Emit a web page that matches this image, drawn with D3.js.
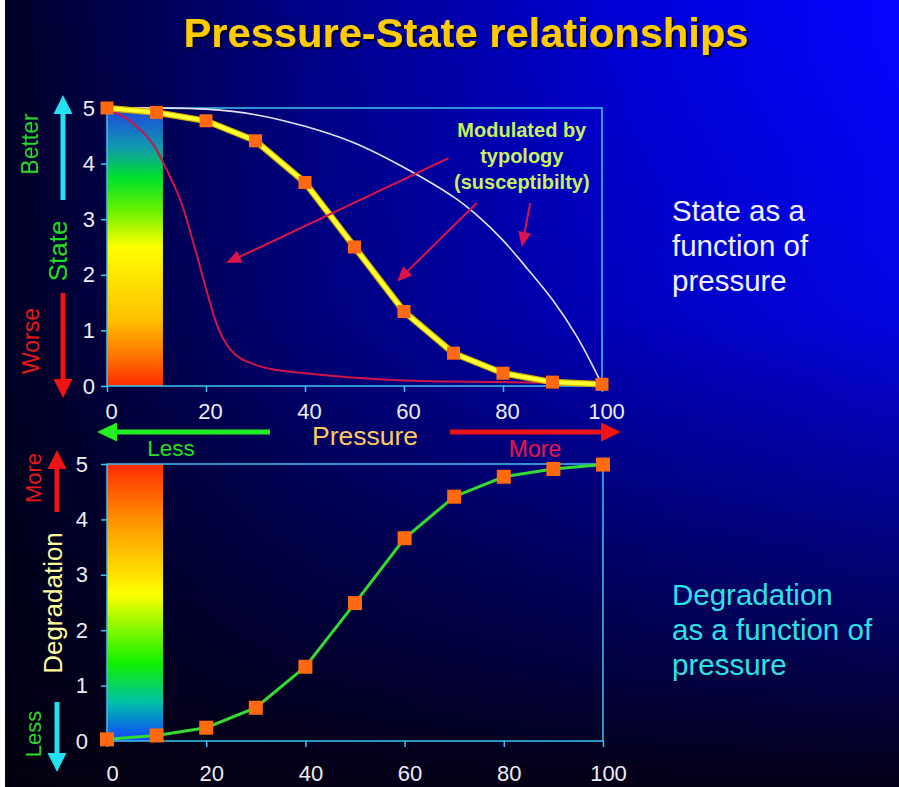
<!DOCTYPE html>
<html>
<head>
<meta charset="utf-8">
<script src="https://cdn.jsdelivr.net/npm/d3@7"></script>
<style>
  body { margin: 0; background: #fff; }
  svg { display: block; }
  text { font-family: "Liberation Sans", Arial, sans-serif; }
</style>
</head>
<body>
<div id="chart"></div>
<script>
// ---- data ----
var pressure = [0, 10, 20, 30, 40, 50, 60, 70, 80, 90, 100];
var stateValues = [5.0, 4.92, 4.77, 4.41, 3.66, 2.5, 1.34, 0.59, 0.23, 0.07, 0.03];
var degradationValues = [0.03, 0.1, 0.24, 0.6, 1.34, 2.49, 3.66, 4.41, 4.77, 4.91, 4.99];

// susceptible typology (red curve)
var sensitiveX = [0, 5, 10, 12, 15, 18, 20, 22, 25, 30, 35, 40, 50, 60, 70, 80, 90, 100];
var sensitiveY = [5.0, 4.74, 4.25, 3.9, 3.3, 2.4, 1.75, 1.15, 0.65, 0.38, 0.28, 0.23, 0.15, 0.1, 0.08, 0.07, 0.06, 0.05];

// resistant typology (white curve)
var resistantX = [0, 10, 20, 30, 40, 50, 60, 70, 75, 80, 85, 90, 95, 100];
var resistantY = [5.0, 5.0, 4.98, 4.88, 4.67, 4.37, 3.93, 3.4, 3.05, 2.62, 2.1, 1.55, 0.88, 0.03];

var xTicks = [0, 20, 40, 60, 80, 100];
var yTicks = [0, 1, 2, 3, 4, 5];
var barEnd = 11.3; // coloured band width in pressure units

// ---- page ----
var W = 899, H = 787;
var svg = d3.select("#chart").append("svg")
  .attr("width", W)
  .attr("height", H);

var defs = svg.append("defs");

function linGrad(id, x1, y1, x2, y2, stops) {
  var g = defs.append("linearGradient").attr("id", id)
    .attr("x1", x1).attr("y1", y1).attr("x2", x2).attr("y2", y2);
  stops.forEach(function(s) {
    g.append("stop").attr("offset", s[0]).attr("stop-color", s[1])
      .attr("stop-opacity", s.length > 2 ? s[2] : 1);
  });
}

linGrad("bgH", "0", "0", "1", "0", [["0%", "#000026"], ["35%", "#00008a"], ["70%", "#0000d8"], ["100%", "#0505ff"]]);
linGrad("bgV", "0", "0", "0", "1", [["0%", "#000010", 0], ["40%", "#000010", 0.12], ["70%", "#000010", 0.55], ["100%", "#050010", 0.97]]);
linGrad("barTop", "0", "0", "0", "1", [["0%", "#2044e0"], ["14%", "#1098b0"], ["25%", "#00e030"], ["36%", "#60f000"], ["50%", "#ffff00"], ["76%", "#ffc000"], ["90%", "#ff7000"], ["100%", "#ff2a00"]]);
linGrad("barBot", "0", "0", "0", "1", [["0%", "#ff2a00"], ["20%", "#ff9000"], ["47%", "#ffff00"], ["72%", "#10f000"], ["86%", "#00c0a8"], ["100%", "#1040ff"]]);

var shadow = defs.append("filter").attr("id", "shadow")
  .attr("x", "-5%").attr("y", "-20%").attr("width", "110%").attr("height", "150%");
shadow.append("feDropShadow")
  .attr("dx", 2).attr("dy", 2).attr("stdDeviation", 0.6)
  .attr("flood-color", "#000").attr("flood-opacity", 0.8);

svg.append("rect").attr("width", W).attr("height", H).attr("fill", "url(#bgH)");
svg.append("rect").attr("width", W).attr("height", H).attr("fill", "url(#bgV)");
svg.append("rect").attr("width", 5).attr("height", H).attr("fill", "#fff");

// ---- helpers ----
function arrow(g, x1, y1, x2, y2, color, width, headLen, headW) {
  var dx = x2 - x1, dy = y2 - y1;
  var len = Math.sqrt(dx * dx + dy * dy);
  var ux = dx / len, uy = dy / len;
  var bx = x2 - ux * headLen, by = y2 - uy * headLen;
  var px = -uy, py = ux;
  g.append("line")
    .attr("x1", x1).attr("y1", y1).attr("x2", bx + ux).attr("y2", by + uy)
    .attr("stroke", color).attr("stroke-width", width);
  g.append("polygon")
    .attr("points", [[x2, y2], [bx + px * headW / 2, by + py * headW / 2], [bx - px * headW / 2, by - py * headW / 2]]
      .map(function(p) { return p.join(","); }).join(" "))
    .attr("fill", color);
}

function vText(x, y, str, color, size) {
  svg.append("text")
    .attr("transform", "translate(" + x + "," + y + ") rotate(-90)")
    .attr("text-anchor", "middle")
    .attr("dominant-baseline", "central")
    .attr("fill", color)
    .style("font-size", size + "px")
    .text(str);
}

function drawAxes(g, x, y, w, h, labelDx, xLabelY, yPad) {
  var frame = "#3ec4f2";
  var xAxis = g.append("g")
    .attr("transform", "translate(0," + h + ")")
    .call(d3.axisBottom(x).tickValues(xTicks).tickFormat(d3.format("d")).tickSize(6).tickPadding(xLabelY));
  var yAxis = g.append("g")
    .call(d3.axisLeft(y).tickValues(yTicks).tickFormat(d3.format("d")).tickSize(6).tickPadding(yPad));
  [xAxis, yAxis].forEach(function(a) {
    a.attr("font-size", null).attr("font-family", null);
    a.select(".domain").remove();
    a.selectAll("line").attr("stroke", frame).attr("stroke-width", 1.5);
    a.selectAll("text").attr("fill", "#ececf4").style("font-size", "22px");
  });
  xAxis.selectAll("text").attr("dx", labelDx);
  g.append("rect")
    .attr("width", w).attr("height", h)
    .attr("fill", "none").attr("stroke", frame).attr("stroke-width", 1.5);
}

// ---- title ----
svg.append("text")
  .attr("x", 466).attr("y", 47)
  .attr("text-anchor", "middle")
  .attr("fill", "#ffcc00")
  .attr("filter", "url(#shadow)")
  .attr("textLength", 565).attr("lengthAdjust", "spacingAndGlyphs")
  .style("font-size", "40px").style("font-weight", "bold")
  .text("Pressure-State relationships");

// ---- top chart: state ----
var top1 = { left: 107, top: 108, width: 495, height: 278 };
var x1 = d3.scaleLinear().domain([0, 100]).range([0, top1.width]);
var y1 = d3.scaleLinear().domain([0, 5]).range([top1.height, 0]);
var g1 = svg.append("g").attr("transform", "translate(" + top1.left + "," + top1.top + ")");

g1.append("rect")
  .attr("x", x1(0)).attr("y", y1(5))
  .attr("width", x1(barEnd) - x1(0)).attr("height", y1(0) - y1(5))
  .attr("fill", "url(#barTop)");

drawAxes(g1, x1, y1, top1.width, top1.height, 4, 11, 6);

var smooth = d3.line().curve(d3.curveMonotoneX)
  .x(function(d) { return x1(d[0]); })
  .y(function(d) { return y1(d[1]); });

g1.append("path")
  .attr("d", d3.line().curve(d3.curveCatmullRom)
    .x(function(d) { return x1(d[0]); })
    .y(function(d) { return y1(d[1]); })(d3.zip(resistantX, resistantY)))
  .attr("fill", "none").attr("stroke", "#e4e4f0").attr("stroke-width", 1.6);

g1.append("path")
  .attr("d", smooth(d3.zip(sensitiveX, sensitiveY)))
  .attr("fill", "none").attr("stroke", "#d01448").attr("stroke-width", 2);

var straight1 = d3.line()
  .x(function(d) { return x1(d[0]); })
  .y(function(d) { return y1(d[1]); });
var statePts = d3.zip(pressure, stateValues);
g1.append("path").attr("d", straight1(statePts))
  .attr("fill", "none").attr("stroke", "#d8b000").attr("stroke-width", 6.5);
g1.append("path").attr("d", straight1(statePts))
  .attr("fill", "none").attr("stroke", "#ffff30").attr("stroke-width", 4);

g1.selectAll("rect.mk").data(statePts).enter().append("rect")
  .attr("class", "mk")
  .attr("x", function(d) { return x1(d[0]) - 6.5; })
  .attr("y", function(d) { return y1(d[1]) - 6.5; })
  .attr("width", 13).attr("height", 13)
  .attr("fill", "#ff6a10");

// annotation
var noteLines = ["Modulated by", "typology", "(susceptibilty)"];
g1.selectAll("text.note").data(noteLines).enter().append("text")
  .attr("class", "note")
  .attr("x", x1(83.8))
  .attr("y", function(d, i) { return 29 + i * 26; })
  .attr("text-anchor", "middle")
  .attr("fill", "#c8f060")
  .style("font-size", "20px").style("font-weight", "bold")
  .text(function(d) { return d; });

var noteArrows = [
  [[69, 4.1], [24.1, 2.21]],
  [[74.7, 3.29], [58.6, 1.88]],
  [[85.5, 3.29], [83.8, 2.5]]
];
noteArrows.forEach(function(a) {
  arrow(g1, x1(a[0][0]), y1(a[0][1]), x1(a[1][0]), y1(a[1][1]), "#dd1448", 2, 15, 13);
});

// left side of top chart
arrow(svg, 63, 200, 63, 95, "#22e2f2", 5, 19, 19);
arrow(svg, 63, 293, 63, 398, "#ee1414", 5, 19, 19);
vText(30, 144, "Better", "#2ed42e", 23);
vText(58, 251, "State", "#22dd22", 26);
vText(31, 341, "Worse", "#e81818", 23);

// pressure strip
arrow(svg, 270, 432, 97, 432, "#22ee22", 5, 20, 19);
arrow(svg, 450, 432, 621, 432, "#ee1414", 5, 20, 19);
svg.append("text").attr("x", 365).attr("y", 445).attr("text-anchor", "middle")
  .attr("fill", "#ffc860").style("font-size", "26.5px").text("Pressure");
svg.append("text").attr("x", 171).attr("y", 456).attr("text-anchor", "middle")
  .attr("fill", "#22e022").style("font-size", "22.5px").text("Less");
svg.append("text").attr("x", 535).attr("y", 457).attr("text-anchor", "middle")
  .attr("fill", "#ee1448").style("font-size", "23px").text("More");

// ---- bottom chart: degradation ----
var bot = { left: 107, top: 464, width: 496, height: 277 };
var x2 = d3.scaleLinear().domain([0, 100]).range([0, bot.width]);
var y2 = d3.scaleLinear().domain([0, 5]).range([bot.height, 0]);
var g2 = svg.append("g").attr("transform", "translate(" + bot.left + "," + bot.top + ")");

g2.append("rect")
  .attr("x", x2(0)).attr("y", y2(5))
  .attr("width", x2(barEnd) - x2(0)).attr("height", y2(0) - y2(5))
  .attr("fill", "url(#barBot)");

drawAxes(g2, x2, y2, bot.width, bot.height, 5, 18, 13);

var straight2 = d3.line()
  .x(function(d) { return x2(d[0]); })
  .y(function(d) { return y2(d[1]); });
var degPts = d3.zip(pressure, degradationValues);
g2.append("path").attr("d", straight2(degPts))
  .attr("fill", "none").attr("stroke", "#30dd30").attr("stroke-width", 3);

g2.selectAll("rect.mk").data(degPts).enter().append("rect")
  .attr("class", "mk")
  .attr("x", function(d) { return x2(d[0]) - 7; })
  .attr("y", function(d) { return y2(d[1]) - 7; })
  .attr("width", 14).attr("height", 14)
  .attr("fill", "#ff6a10");

// left side of bottom chart
arrow(svg, 57, 512, 57, 450, "#ee1414", 5, 19, 19);
arrow(svg, 57, 702, 57, 772, "#22e2f2", 5, 19, 19);
vText(33, 478, "More", "#e81818", 22);
vText(53, 603, "Degradation", "#ffff99", 26);
vText(33, 734, "Less", "#2ed42e", 22);

// ---- right side notes ----
var stateNote = ["State as a", "function of", "pressure"];
svg.selectAll("text.sn").data(stateNote).enter().append("text")
  .attr("class", "sn")
  .attr("x", 672)
  .attr("y", function(d, i) { return 221 + i * 35; })
  .attr("fill", "#f0f0ff")
  .style("font-size", "29.5px")
  .text(function(d) { return d; });

var degNote = ["Degradation", "as a function of", "pressure"];
svg.selectAll("text.dn").data(degNote).enter().append("text")
  .attr("class", "dn")
  .attr("x", 672)
  .attr("y", function(d, i) { return 605 + i * 35; })
  .attr("fill", "#30e0e8")
  .style("font-size", "29.5px")
  .text(function(d) { return d; });
</script>
</body>
</html>
